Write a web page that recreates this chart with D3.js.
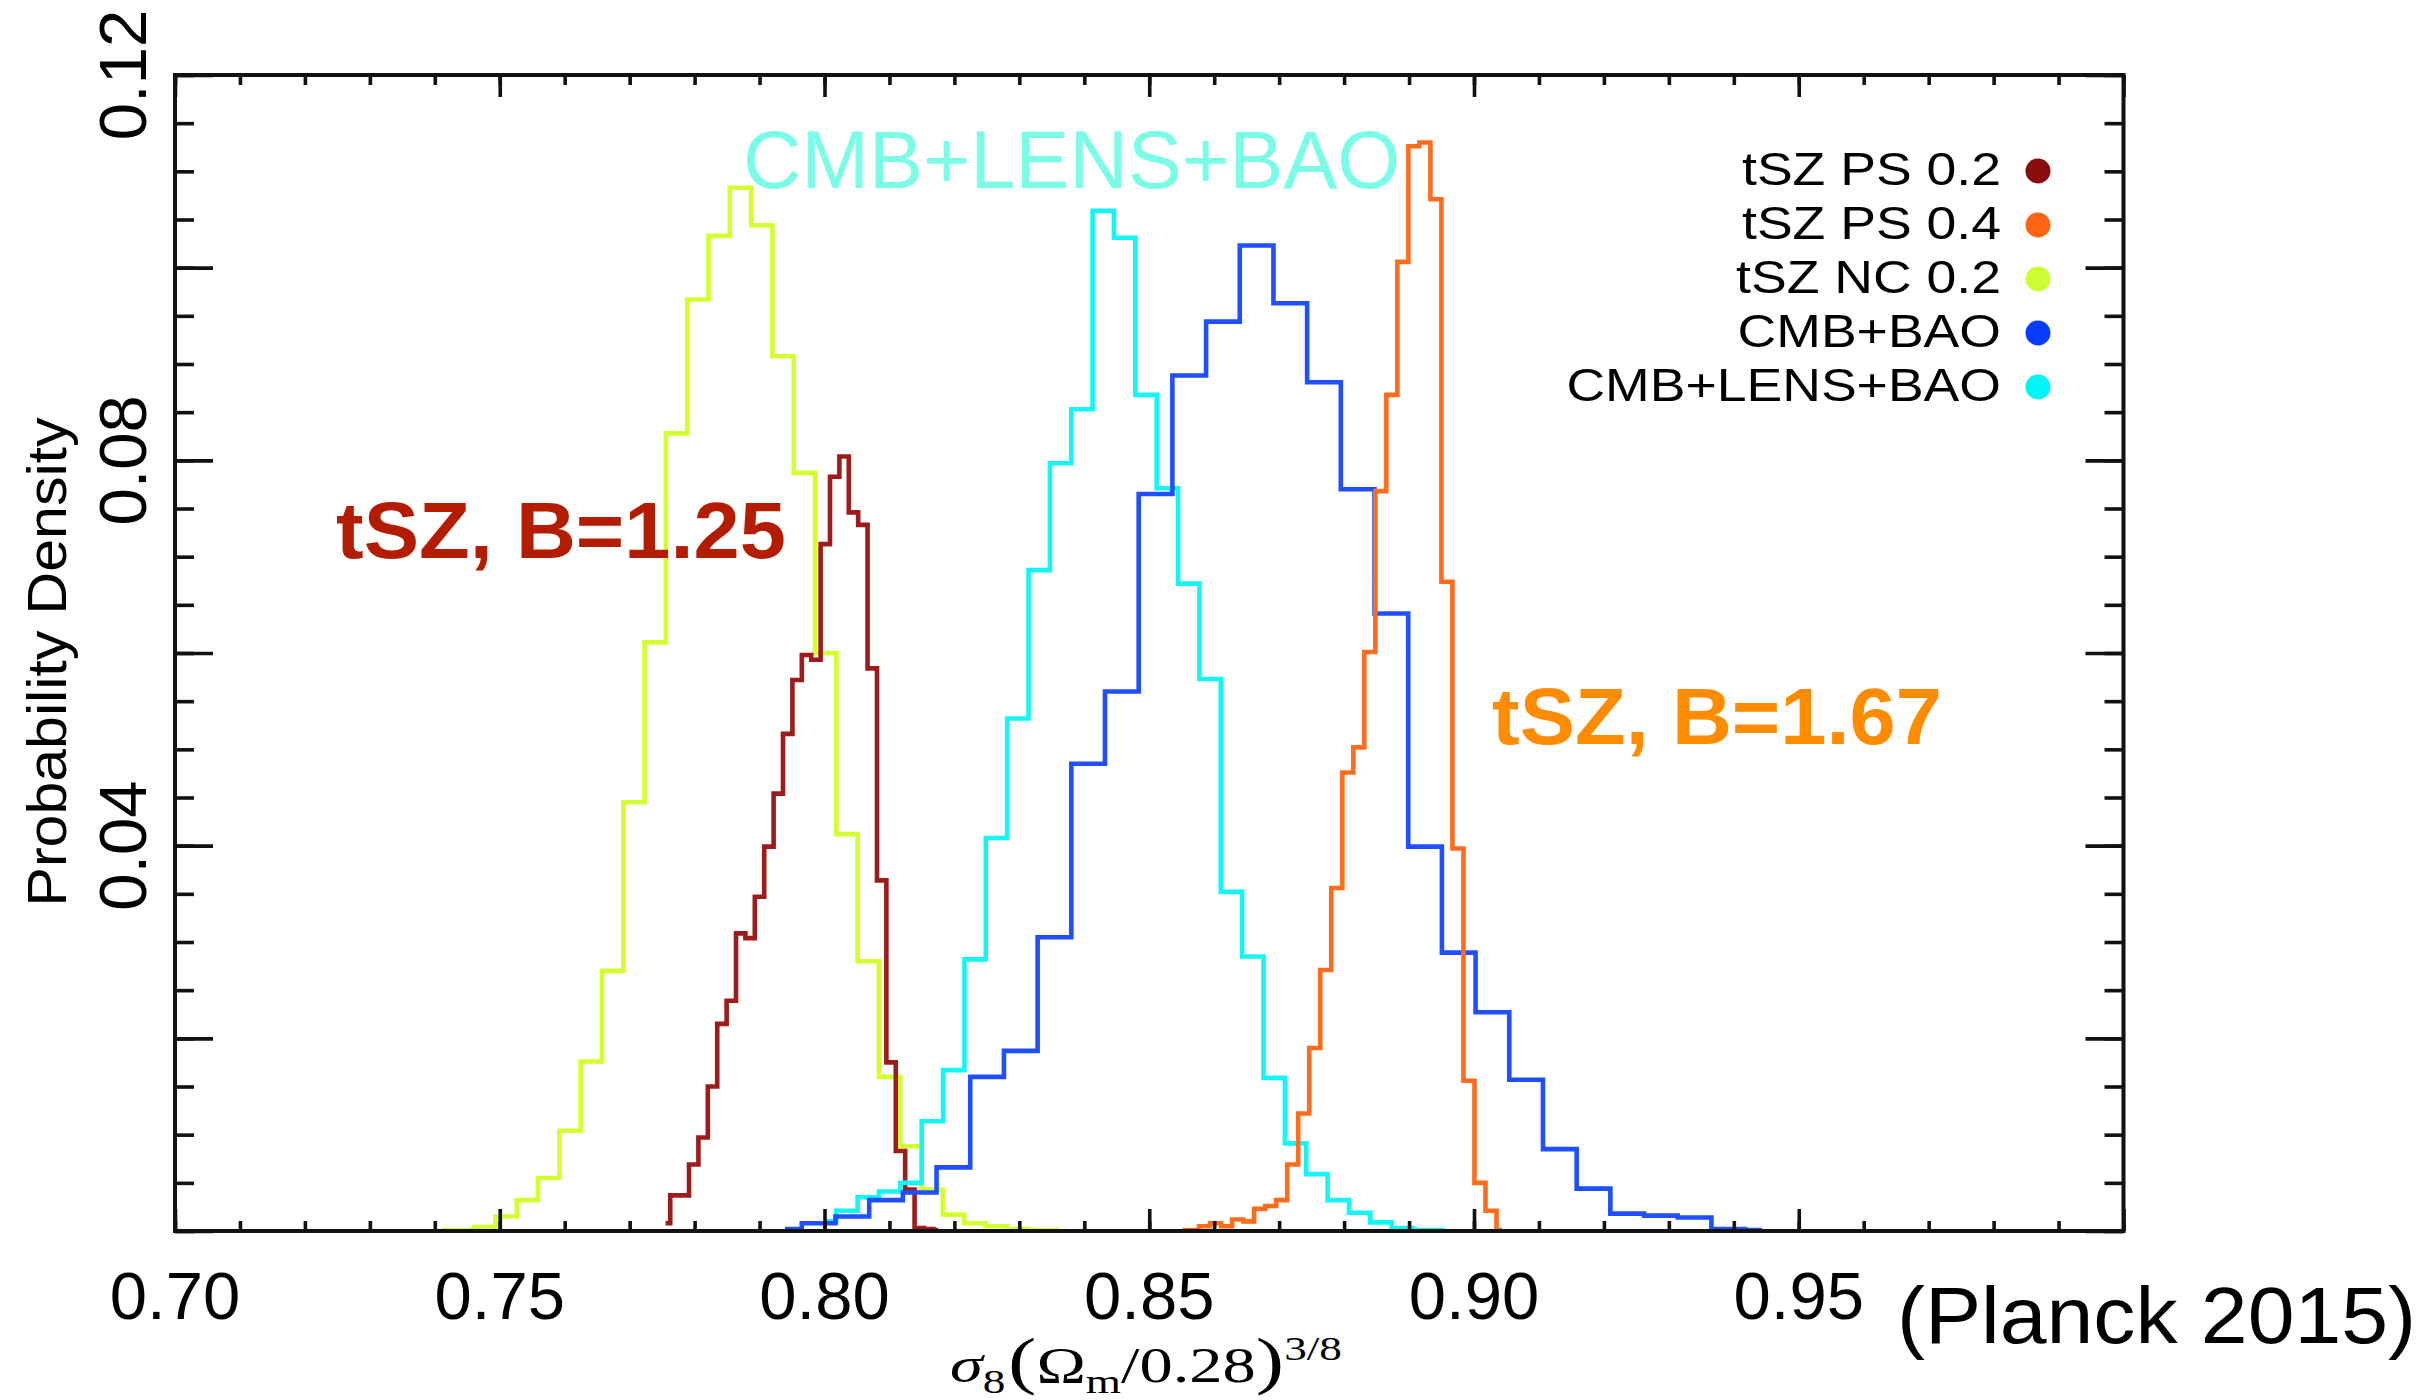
<!DOCTYPE html>
<html><head><meta charset="utf-8">
<script src="https://cdn.jsdelivr.net/npm/d3@7"></script>
<style>
html,body{margin:0;padding:0;background:#fff;}
svg{display:block;font-family:"Liberation Sans", Arial, Helvetica, sans-serif;}
</style></head>
<body>
<svg id="chart" width="2430" height="1400"></svg>
<script>
// ---------------- DATA ----------------
const seriesNames = ["tSZ PS 0.2", "tSZ PS 0.4", "tSZ NC 0.2", "CMB+BAO", "CMB+LENS+BAO"];
// left edge of first bin and bin width of each histogram (x units)
const binStart = [0.7748, 0.85428, 0.7395, 0.791318, 0.798522];
const binWidth = [0.001447, 0.001696, 0.00328, 0.005187, 0.003289];
// probability densities per bin
const densPS02 = [0.0008, 0.0037, 0.0037, 0.0069, 0.0097, 0.0150, 0.0215, 0.0239, 0.0309, 0.0304,
  0.0347, 0.0399, 0.0454, 0.0516, 0.0572, 0.0598, 0.0593, 0.0713, 0.0783, 0.0804,
  0.0746, 0.0733, 0.0584, 0.0364, 0.0175, 0.0083, 0.0043, 0.0003, 0.0002, 0.0001];
const densPS04 = [0.0001, 0.0001, 0.0005, 0.0008, 0.0005, 0.0012, 0.0010, 0.0023, 0.0026, 0.0032,
  0.0069, 0.0122, 0.0190, 0.0271, 0.0356, 0.0476, 0.0502, 0.0601, 0.0768, 0.0868,
  0.1006, 0.1126, 0.1130, 0.1071, 0.0674, 0.0397, 0.0156, 0.0050, 0.0021, 0.0001];
const densNC02 = [0.0001, 0.0001, 0.0004, 0.0015, 0.0032, 0.0055, 0.0104, 0.0176, 0.0270, 0.0445,
  0.0611, 0.0828, 0.0967, 0.1033, 0.1083, 0.1044, 0.0908, 0.0787, 0.0600, 0.0412,
  0.0280, 0.0160, 0.0088, 0.0043, 0.0017, 0.0008, 0.0005, 0.0002, 0.0001, 0.0001];
const densCMBBAO = [0.0002, 0.0008, 0.0015, 0.0032, 0.0040, 0.0066, 0.0160, 0.0187, 0.0305, 0.0485,
  0.0560, 0.0765, 0.0888, 0.0944, 0.1023, 0.0963, 0.0881, 0.0770, 0.0641, 0.0399,
  0.0289, 0.0227, 0.0157, 0.0085, 0.0044, 0.0018, 0.0016, 0.0014, 0.0002, 0.0001];
const densCMBLENS = [0.0010, 0.0021, 0.0035, 0.0041, 0.0050, 0.0114, 0.0167, 0.0282, 0.0408, 0.0532,
  0.0686, 0.0797, 0.0853, 0.1059, 0.1031, 0.0868, 0.0771, 0.0672, 0.0573, 0.0352,
  0.0285, 0.0159, 0.0091, 0.0059, 0.0032, 0.0019, 0.0009, 0.0003, 0.0001, 0.0001];
const densities = [densPS02, densPS04, densNC02, densCMBBAO, densCMBLENS];

const xTickLabels = ["0.70", "0.75", "0.80", "0.85", "0.90", "0.95"];
const yTickLabels = ["0.04", "0.08", "0.12"];
const xDomain = [0.70, 1.00];
const yDomain = [0, 0.12];

// ---------------- STYLE ----------------
const lineColors = ["#9e1b1b", "#ff6c1c", "#d2ff2e", "#1f4fff", "#14f6f6"];
const dotColors  = ["#8b0c0c", "#ff6412", "#ccff33", "#0a3cff", "#00f6f6"];
const drawOrder = [2, 0, 4, 3, 1];

const svg = d3.select("#chart");
const L = 175, R = 2123.5, T = 75, B = 1231;
const x = d3.scaleLinear().domain(xDomain).range([L, R]);
const y = d3.scaleLinear().domain(yDomain).range([B, T]);

// ---------------- HISTOGRAMS (IDL psym=10 style) ----------------
function stepPoints(x0, w, d) {
  const pts = [[x0 + w / 2, d[0]]];
  for (let i = 0; i < d.length; i++) {
    const edge = x0 + (i + 1) * w;
    if (i < d.length - 1) {
      pts.push([edge, d[i]]);
      pts.push([edge, d[i + 1]]);
    } else {
      pts.push([x0 + (i + 0.5) * w, d[i]]);
    }
  }
  return pts;
}
const line = d3.line().x(p => x(p[0])).y(p => y(p[1]));
const gH = svg.append("g");
drawOrder.forEach(k => {
  gH.append("path")
    .attr("d", line(stepPoints(binStart[k], binWidth[k], densities[k])))
    .attr("fill", "none")
    .attr("stroke", lineColors[k])
    .attr("stroke-width", 4.6)
    .attr("stroke-linejoin", "miter");
});

// ---------------- AXES ----------------
function styleAxis(g) {
  g.select(".domain").remove();
  g.selectAll(".tick line").attr("stroke", "#111").attr("stroke-width", 3.6);
  g.selectAll(".tick text").remove();
}
const xMinor = x.ticks(30), xMajor = x.ticks(6);
const yMinor = y.ticks(24), yMajor = y.ticks(6);
svg.append("g").attr("transform", `translate(0,${B})`)
  .call(d3.axisBottom(x).tickValues(xMinor).tickSize(-10).tickFormat("")).call(styleAxis);
svg.append("g").attr("transform", `translate(0,${B})`)
  .call(d3.axisBottom(x).tickValues(xMajor).tickSize(-22).tickFormat("")).call(styleAxis);
svg.append("g").attr("transform", `translate(0,${T})`)
  .call(d3.axisTop(x).tickValues(xMinor).tickSize(-10).tickFormat("")).call(styleAxis);
svg.append("g").attr("transform", `translate(0,${T})`)
  .call(d3.axisTop(x).tickValues(xMajor).tickSize(-22).tickFormat("")).call(styleAxis);
svg.append("g").attr("transform", `translate(${L},0)`)
  .call(d3.axisLeft(y).tickValues(yMinor).tickSize(-19).tickFormat("")).call(styleAxis);
svg.append("g").attr("transform", `translate(${L},0)`)
  .call(d3.axisLeft(y).tickValues(yMajor).tickSize(-38).tickFormat("")).call(styleAxis);
svg.append("g").attr("transform", `translate(${R},0)`)
  .call(d3.axisRight(y).tickValues(yMinor).tickSize(-19).tickFormat("")).call(styleAxis);
svg.append("g").attr("transform", `translate(${R},0)`)
  .call(d3.axisRight(y).tickValues(yMajor).tickSize(-38).tickFormat("")).call(styleAxis);

svg.append("rect").attr("x", L).attr("y", T).attr("width", R - L).attr("height", B - T)
  .attr("fill", "none").attr("stroke", "#111").attr("stroke-width", 4);

// tick labels
svg.append("g").selectAll("text").data(xTickLabels).join("text")
  .attr("x", d => x(+d)).attr("y", 1319)
  .attr("text-anchor", "middle").attr("font-size", 67).attr("fill", "#000")
  .text(d => d);
svg.append("g").selectAll("text").data(yTickLabels).join("text")
  .attr("transform", d => `translate(146,${y(+d)}) rotate(-90)`)
  .attr("text-anchor", "middle").attr("font-size", 67).attr("fill", "#000")
  .text(d => d);

// axis titles
svg.append("text")
  .attr("transform", "translate(66,662) rotate(-90)")
  .attr("text-anchor", "middle").attr("font-size", 56)
  .attr("textLength", 489).attr("lengthAdjust", "spacingAndGlyphs")
  .text("Probability Density");

const xt = svg.append("g").attr("transform", "translate(1146,1382) scale(1.33,1)")
  .append("text").attr("text-anchor", "middle")
  .attr("font-family", "'Liberation Serif','Times New Roman',serif").attr("font-size", 50);
xt.append("tspan").attr("font-style", "italic").text("σ");
xt.append("tspan").attr("font-size", 34).attr("dy", 11).text("8");
xt.append("tspan").attr("font-size", 64).attr("dy", -11).attr("dx", 2).text("(");
xt.append("tspan").text("Ω");
xt.append("tspan").attr("font-size", 34).attr("dy", 11).text("m");
xt.append("tspan").attr("dy", -11).text("/0.28");
xt.append("tspan").attr("font-size", 64).text(")");
xt.append("tspan").attr("font-size", 34).attr("dy", -22).text("3/8");

svg.append("text").attr("x", 1897).attr("y", 1343)
  .attr("font-size", 80).attr("textLength", 519).attr("lengthAdjust", "spacingAndGlyphs")
  .attr("fill", "#000").text("(Planck 2015)");

// ---------------- ANNOTATIONS ----------------
svg.append("text").attr("x", 743).attr("y", 188).attr("font-size", 81)
  .attr("fill", "#7afce6").text("CMB+LENS+BAO");
svg.append("text").attr("x", 336).attr("y", 558).attr("font-size", 79).attr("font-weight", "bold")
  .attr("textLength", 450).attr("lengthAdjust", "spacingAndGlyphs")
  .attr("fill", "#b41c00").text("tSZ, B=1.25");
svg.append("text").attr("x", 1492).attr("y", 744).attr("font-size", 79).attr("font-weight", "bold")
  .attr("textLength", 450).attr("lengthAdjust", "spacingAndGlyphs")
  .attr("fill", "#ff8c00").text("tSZ, B=1.67");

// ---------------- LEGEND ----------------
const lg = svg.append("g");
seriesNames.forEach((name, i) => {
  const cy = 171 + i * 54;
  lg.append("g").attr("transform", `translate(2001,${cy + 14}) scale(1.14,1)`)
    .append("text").attr("text-anchor", "end").attr("font-size", 47).attr("fill", "#000").text(name);
  lg.append("circle").attr("cx", 2038).attr("cy", cy).attr("r", 12.5).attr("fill", dotColors[i]);
});
</script>
</body></html>
